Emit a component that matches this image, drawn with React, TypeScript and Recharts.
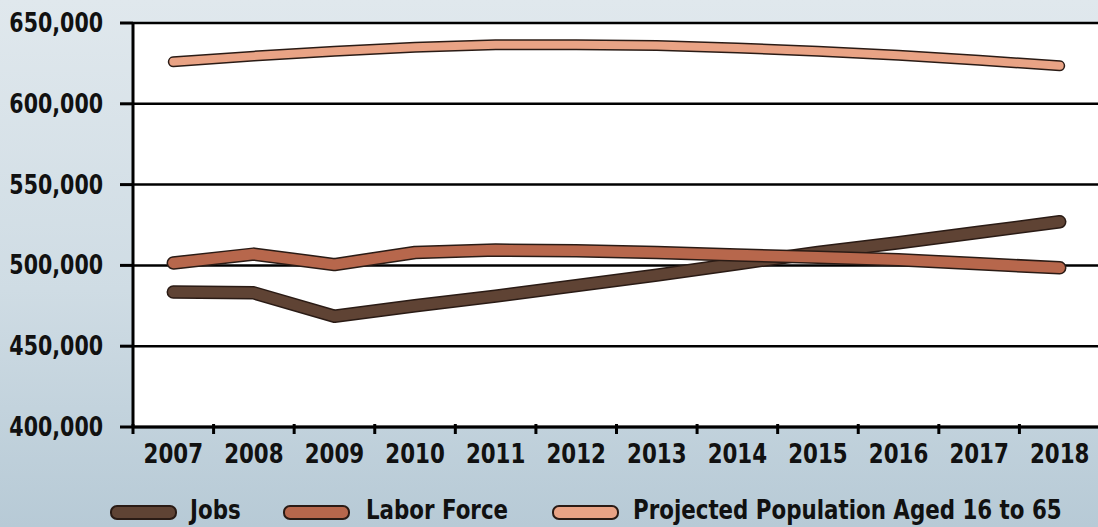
import {
  CartesianGrid,
  ComposedChart,
  Legend,
  Line,
  XAxis,
  YAxis,
} from "recharts";

const years = ["2007", "2008", "2009", "2010", "2011", "2012", "2013", "2014", "2015", "2016", "2017", "2018"];
const jobs = [483500, 483000, 468500, 475000, 481000, 487500, 494000, 501000, 508000, 514000, 520500, 527000];
const laborForce = [501500, 507000, 500500, 508000, 509500, 509000, 508000, 506500, 505000, 503500, 501000, 498500];
const projectedPopulation = [626000, 629500, 632500, 635000, 636500, 636500, 636000, 634500, 632500, 630000, 627000, 623500];
const yTicks = [400000, 450000, 500000, 550000, 600000, 650000];

const seriesInfo = [
  { key: "jobs", name: "Jobs", color: "#5f4334", width: 10.5 },
  { key: "labor", name: "Labor Force", color: "#b7674c", width: 10.5 },
  { key: "population", name: "Projected Population Aged 16 to 65", color: "#e9a385", width: 8 },
];

const data = years.map((year, i) => ({
  year,
  jobs: jobs[i],
  labor: laborForce[i],
  population: projectedPopulation[i],
}));

const W = 1098;
const H = 527;
const AXIS_W = 133;
const RIGHT = -2;
const BAND = (W - AXIS_W - RIGHT) / years.length;
const FONT = "'DejaVu Sans Condensed', 'Liberation Sans Narrow', sans-serif";
const SQUEEZE = 0.88;
const OUTLINE = "#2a1b15";

// legend item offsets (icon left, text left)
const legendIconX = [110, 283, 552];
const legendTextX = [190, 366, 633];

function YearTick({ x, y, payload }: any) {
  const edge = x - BAND / 2;
  return (
    <g>
      <line x1={edge} y1={y - 3} x2={edge} y2={y + 7} stroke="#000" strokeWidth={3} />
      <text
        transform={`translate(${x},${y + 36}) scale(${SQUEEZE},1)`}
        textAnchor="middle"
        fontFamily={FONT}
        fontWeight="bold"
        fontSize={27}
        fill="#111"
      >
        {payload.value}
      </text>
    </g>
  );
}

function ValueTick({ x, y, payload }: any) {
  return (
    <text
      transform={`translate(${x},${y + 9}) scale(${SQUEEZE},1)`}
      textAnchor="end"
      fontFamily={FONT}
      fontWeight="bold"
      fontSize={26}
      fill="#111"
    >
      {payload.value.toLocaleString("en-US")}
    </text>
  );
}

function LegendRow() {
  return (
    <div
      style={{
        position: "relative",
        height: 45,
        width: W,
        fontFamily: FONT,
        fontWeight: "bold",
        fontSize: 27,
        color: "#111",
        whiteSpace: "nowrap",
      }}
    >
      {seriesInfo.map((s, i) => (
        <div key={s.key}>
          <span
            style={{
              position: "absolute",
              left: legendIconX[i],
              top: 23,
              width: 63,
              height: 11,
              borderRadius: 7,
              background: s.color,
              border: `2px solid ${OUTLINE}`,
            }}
          />
          <span
            style={{
              position: "absolute",
              left: legendTextX[i],
              top: 13,
              lineHeight: "30px",
              transform: `scaleX(${SQUEEZE})`,
              transformOrigin: "left center",
            }}
          >
            {s.name}
          </span>
        </div>
      ))}
    </div>
  );
}

export default function App() {
  return (
    <div
      style={{
        position: "absolute",
        left: 0,
        top: 0,
        width: W,
        height: H,
        background: "linear-gradient(180deg, #e0e8ed 0%, #cfdce4 55%, #b7cad6 100%)",
        overflow: "hidden",
      }}
    >
      <ComposedChart
        width={W}
        height={H}
        data={data}
        margin={{ top: 23, right: RIGHT, bottom: 0, left: 0 }}
      >
        <CartesianGrid
          vertical={false}
          stroke="#000"
          strokeWidth={2.5}
          fill="#fff"
          fillOpacity={1}
        />
        <XAxis
          dataKey="year"
          height={55}
          tickLine={false}
          tickSize={0}
          tickMargin={0}
          padding={{ left: BAND / 2, right: BAND / 2 }}
          axisLine={{ stroke: "#000", strokeWidth: 3 }}
          tick={YearTick}
          interval={0}
        />
        <YAxis
          width={AXIS_W}
          domain={[400000, 650000]}
          ticks={yTicks}
          tickSize={13}
          tickMargin={17}
          tickLine={{ stroke: "#000", strokeWidth: 3 }}
          axisLine={{ stroke: "#000", strokeWidth: 3 }}
          tick={ValueTick}
        />
        <Legend verticalAlign="bottom" content={LegendRow} wrapperStyle={{ left: 0, width: W, height: 45 }} />
        {seriesInfo.flatMap((s) => [
          <Line
            key={s.key + "-outline"}
            dataKey={s.key}
            stroke={OUTLINE}
            strokeWidth={s.width + 3}
            strokeLinecap="round"
            strokeLinejoin="round"
            dot={false}
            activeDot={false}
            legendType="none"
            isAnimationActive={false}
          />,
          <Line
            key={s.key + "-fill"}
            dataKey={s.key}
            name={s.name}
            stroke={s.color}
            strokeWidth={s.width}
            strokeLinecap="round"
            strokeLinejoin="round"
            dot={false}
            activeDot={false}
            isAnimationActive={false}
          />,
        ])}
      </ComposedChart>
    </div>
  );
}
